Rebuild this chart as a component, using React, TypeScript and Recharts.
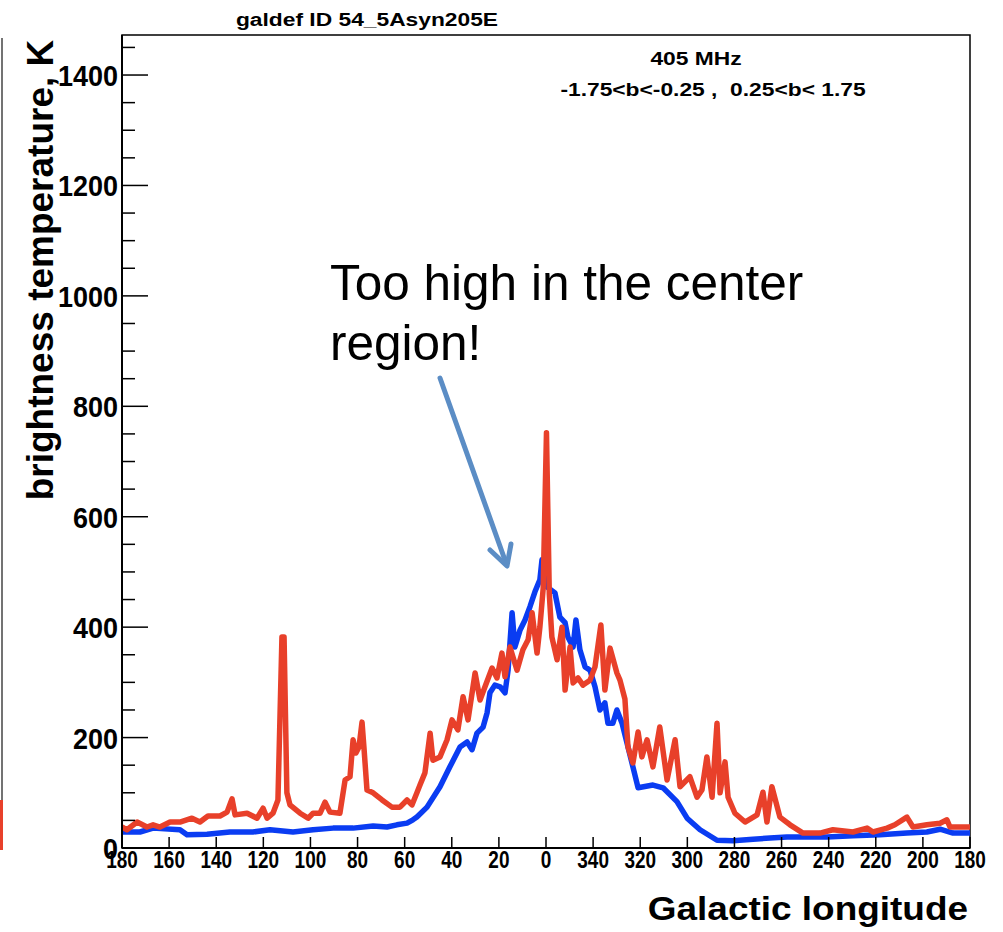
import React from 'react';
import { LineChart, Line, XAxis, YAxis, ReferenceArea } from 'recharts';

// position along the axis in degrees from the left edge (l = 180 at 0 and at 360, l = 0 at 180)
const redLon = [
  0, 2.1, 6.4, 10.6, 13.2, 16.1, 20.4, 24.6, 29.7, 33.1, 36.5, 41.6, 44.6, 46.7, 48.0, 53.1, 57.3, 59.9,
  61.6, 64.1, 66.2, 67.9, 68.8, 70.0, 71.3, 75.6, 79.0, 81.1, 84.1, 86.2, 88.3, 92.5, 94.7, 96.8, 98.1,
  99.3, 100.6, 101.9, 102.7, 104.0, 106.6, 110.4, 114.6, 118.0, 121.0, 123.1, 125.2, 126.5, 128.6, 130.8,
  132.0, 135.0, 138.0, 140.1, 142.6, 144.8, 146.9, 149.9, 152.0, 154.1, 157.1, 159.2, 161.3, 162.6, 164.7,
  167.7, 170.2, 172.4, 174.1, 176.2, 177.4, 178.8, 180.2, 181.4, 182.5, 184.7, 186.8, 188.1, 190.2, 191.5,
  193.6, 195.7, 198.7, 200.8, 203.3, 205.0, 207.2, 210.1, 211.4, 213.5, 214.8, 216.9, 219.1, 220.7, 222.9,
  225.4, 228.3, 231.4, 234.8, 236.9, 241.1, 244.1, 246.2, 248.3, 250.5, 252.6, 253.9, 256.0, 257.3, 260.2,
  264.5, 269.6, 272.1, 273.8, 275.9, 279.3, 283.6, 289.1, 296.3, 301.8, 310.3, 316.3, 318.8, 324.8, 328.1,
  333.2, 335.8, 341.7, 347.3, 350.2, 351.5, 360,
];
const redTemp = [
  38, 33, 47, 38, 42, 38, 47, 47, 54, 47, 58, 58, 65, 89, 60, 63, 54, 72,
  54, 63, 87, 382, 382, 100, 78, 63, 54, 63, 63, 83, 65, 63, 123, 129, 196,
  172, 183, 228, 183, 105, 100, 87, 74, 74, 87, 78, 100, 114, 136, 208,
  159, 165, 196, 232, 214, 274, 232, 317, 268, 292, 326, 308, 353, 310, 364,
  322, 359, 377, 426, 353, 400, 470, 752, 460, 382, 341, 400, 286, 364, 299,
  308, 295, 304, 328, 404, 286, 362, 317, 304, 270, 183, 154, 210, 165, 196,
  147, 219, 123, 196, 111, 129, 92, 105, 165, 92, 226, 100, 156, 92, 63,
  47, 60, 101, 47, 111, 56, 42, 27, 27, 33, 29, 36, 29, 36, 42,
  56, 38, 42, 45, 51, 38, 38,
];

const blueLon = [
  0, 7.6, 13.2, 24.6, 27.6, 36.1, 45.8, 55.6, 62.8, 72.6, 81.1, 89.6, 98.1, 106.6, 112.5, 116.7, 121.0,
  123.5, 125.2, 129.5, 135.0, 139.2, 143.5, 146.5, 148.6, 150.7, 153.3, 155.0, 156.2, 158.3, 160.5, 162.6,
  163.9, 165.6, 166.8, 169.0, 171.1, 173.2, 175.3, 177.4, 178.3, 180.4, 183.8, 185.9, 188.1, 189.3, 191.5,
  192.7, 194.4, 196.6, 198.7, 200.8, 202.9, 205.0, 206.3, 208.4, 210.1, 212.3, 214.4, 216.9, 219.1, 225.4,
  229.7, 235.6, 239.9, 245.4, 252.6, 259.4, 267.9, 275.1, 282.3, 290.8, 299.3, 310.3, 321.8, 333.2, 341.7,
  347.3, 352.8, 360,
];
const blueTemp = [
  29, 29, 36, 33, 24, 25, 29, 29, 33, 29, 33, 36, 36, 40, 38, 42, 45,
  51, 56, 74, 111, 147, 183, 192, 178, 208, 219, 245, 281, 295, 292, 281,
  322, 426, 364, 395, 413, 437, 464, 486, 522, 473, 462, 418, 408, 382, 364,
  413, 359, 328, 322, 292, 250, 263, 226, 226, 250, 226, 190, 147, 109, 114,
  109, 84, 54, 33, 14, 13, 16, 18, 20, 20, 20, 22, 24, 27, 29,
  34, 27, 27,
];

const lonTicks = [0, 20, 40, 60, 80, 100, 120, 140, 160, 180, 200, 220, 240, 260, 280, 300, 320, 340, 360];
const tempTicks = [
  0, 50, 100, 150, 200, 250, 300, 350, 400, 450, 500, 550, 600, 650, 700, 750,
  800, 850, 900, 950, 1000, 1050, 1100, 1150, 1200, 1250, 1300, 1350, 1400, 1450,
];

const redData = redLon.map((d, i) => ({ d, v: redTemp[i] }));
const blueData = blueLon.map((d, i) => ({ d, v: blueTemp[i] }));

const FONT = '"Liberation Sans", Arial, Helvetica, sans-serif';
const lonLabel = (d: number) => (((180 - d) % 360) + 360) % 360;

const YTick = (props: any) => {
  const { x, y, payload } = props;
  const v = payload.value;
  const major = v % 200 === 0;
  return (
    <g>
      <line x1={x} x2={x + (major ? 26 : 13)} y1={y} y2={y} stroke="#000" strokeWidth={1.5} />
      {major && (
        <text
          x={0}
          y={0}
          transform={`translate(${x - 4},${y + 11}) scale(1,1.12)`}
          textAnchor="end"
          fontSize={27}
          fontWeight="bold"
          fontFamily={FONT}
          fill="#000"
        >
          {v}
        </text>
      )}
    </g>
  );
};

const XTick = (props: any) => {
  const { x, y, payload } = props;
  return (
    <g>
      <line x1={x} x2={x} y1={y} y2={y - 11} stroke="#000" strokeWidth={1.5} />
      <text
        x={0}
        y={0}
        transform={`translate(${x},${y + 20}) scale(1,1.3)`}
        textAnchor="middle"
        fontSize={19}
        fontWeight="bold"
        fontFamily={FONT}
        fill="#000"
      >
        {lonLabel(payload.value)}
      </text>
    </g>
  );
};

export default function App() {
  return (
    <div style={{ position: 'absolute', left: 0, top: 0, width: 1003, height: 932, background: '#fff' }}>
      <LineChart width={1003} height={932} margin={{ top: 35, right: 33, bottom: 0, left: 0 }}>
        <XAxis
          type="number"
          dataKey="d"
          domain={[0, 360]}
          ticks={lonTicks}
          interval={0}
          allowDataOverflow
          height={84}
          tickSize={0}
          tickMargin={0}
          tickLine={false}
          axisLine={{ stroke: '#000', strokeWidth: 2 }}
          tick={<XTick />}
        />
        <YAxis
          type="number"
          domain={[0, 1472.5]}
          ticks={tempTicks}
          interval={0}
          allowDataOverflow
          width={122}
          tickSize={0}
          tickMargin={0}
          tickLine={false}
          axisLine={{ stroke: '#000', strokeWidth: 2 }}
          tick={<YTick />}
        />
        <ReferenceArea x1={0} x2={360} y1={0} y2={1472.5} fill="none" stroke="#000" strokeWidth={1.5} />
        <Line
          data={blueData}
          dataKey="v"
          type="linear"
          dot={false}
          stroke="#0a3cf2"
          strokeWidth={5.5}
          strokeLinejoin="round"
          isAnimationActive={false}
        />
        <Line
          data={redData}
          dataKey="v"
          type="linear"
          dot={false}
          stroke="#e8402a"
          strokeWidth={5.5}
          strokeLinejoin="round"
          isAnimationActive={false}
        />
      </LineChart>
      <svg
        width={1003}
        height={932}
        style={{ position: 'absolute', left: 0, top: 0, pointerEvents: 'none' }}
        fontFamily={FONT}
      >
        <line x1={2} x2={2} y1={38} y2={850} stroke="#444" strokeWidth={1.5} />
        <line x1={1.5} x2={1.5} y1={800} y2={850} stroke="#e8402a" strokeWidth={3} />
        <text x={0} y={0} transform="translate(367,26) scale(1.2,1)" textAnchor="middle" fontSize={19} fontWeight="bold">
          galdef ID 54_5Asyn205E
        </text>
        <text x={0} y={0} transform="translate(696,65) scale(1.2,1)" textAnchor="middle" fontSize={19} fontWeight="bold">
          405 MHz
        </text>
        <text
          x={0}
          y={0}
          transform="translate(713,96) scale(1.2,1)"
          textAnchor="middle"
          fontSize={19}
          fontWeight="bold"
          style={{ whiteSpace: 'pre' }}
        >
          {'-1.75<b<-0.25 ,  0.25<b< 1.75'}
        </text>
        <text x={0} y={0} transform="translate(53,270) rotate(-90)" textAnchor="middle" fontSize={37} fontWeight="bold">
          brightness temperature, K
        </text>
        <text x={0} y={0} transform="translate(968,920) scale(1.12,1)" textAnchor="end" fontSize={33} fontWeight="bold">
          Galactic longitude
        </text>
        <text x={330} y={300} fontSize={49.5} fill="#000">
          Too high in the center
        </text>
        <text x={330} y={360} fontSize={49.5} fill="#000">
          region!
        </text>
        <line x1={440} y1={378} x2={506} y2={563} stroke="#5b8dc5" strokeWidth={5} strokeLinecap="round" />
        <polyline
          points="490,550 507,566 511,544"
          fill="none"
          stroke="#5b8dc5"
          strokeWidth={5}
          strokeLinecap="round"
          strokeLinejoin="round"
        />
      </svg>
    </div>
  );
}
